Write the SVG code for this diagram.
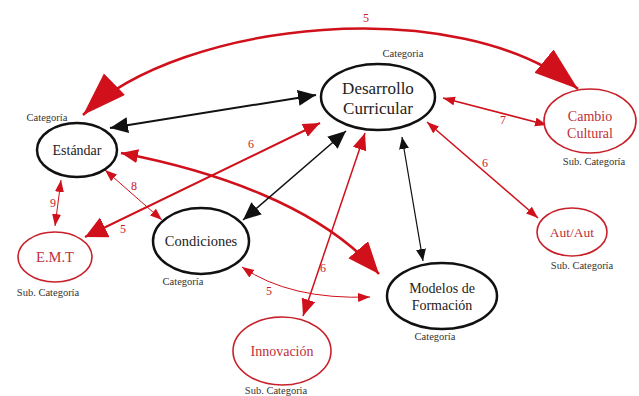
<svg xmlns="http://www.w3.org/2000/svg" width="639" height="396" viewBox="0 0 639 396" font-family="'Liberation Serif','Times New Roman','DejaVu Serif',serif">
<style>
.bg{fill:#fff}
.nb{fill:#fff;stroke:#111;stroke-width:2.5}
.nr{fill:#fff;stroke:#c8202a;stroke-width:1.6}
text{font-family:'Liberation Serif','Times New Roman','DejaVu Serif',serif}
.tb{fill:#222;text-anchor:middle}
.tr{fill:#c0303a;text-anchor:middle}
.cat{fill:#333;font-size:10.5px;text-anchor:middle}
.num{fill:#c8202a;font-size:12px;text-anchor:middle}
.er{fill:none;stroke:#d0101a}
.eb{fill:none;stroke:#111}
</style>
<defs>
<marker id="rBig" markerUnits="userSpaceOnUse" markerWidth="46" markerHeight="32" refX="44" refY="15" orient="auto-start-reverse"><path d="M0,0 L44,15 L0,30 z" fill="#d0101a"/></marker>
<marker id="rFat" markerUnits="userSpaceOnUse" markerWidth="24" markerHeight="24" refX="22" refY="11" orient="auto-start-reverse"><path d="M0,0 L22,11 L0,22 z" fill="#d0101a"/></marker>
<marker id="rLarge" markerUnits="userSpaceOnUse" markerWidth="34" markerHeight="28" refX="32" refY="13" orient="auto-start-reverse"><path d="M0,0 L32,13 L0,26 z" fill="#d0101a"/></marker>
<marker id="rMed" markerUnits="userSpaceOnUse" markerWidth="18" markerHeight="16" refX="17" refY="7" orient="auto-start-reverse"><path d="M0,0 L17,7 L0,14 z" fill="#d0101a"/></marker>
<marker id="rSm" markerUnits="userSpaceOnUse" markerWidth="14" markerHeight="10" refX="12" refY="4.5" orient="auto-start-reverse"><path d="M0,0 L12,4.5 L0,9 z" fill="#d0101a"/></marker>
<marker id="bMed" markerUnits="userSpaceOnUse" markerWidth="20" markerHeight="18" refX="18" refY="8" orient="auto-start-reverse"><path d="M0,0 L18,8 L0,16 z" fill="#111"/></marker>
<marker id="bSm" markerUnits="userSpaceOnUse" markerWidth="14" markerHeight="12" refX="12" refY="5" orient="auto-start-reverse"><path d="M0,0 L12,5 L0,10 z" fill="#111"/></marker>
</defs>
<rect class="bg" x="0" y="0" width="639" height="396"/>
<g id="connectors">
<path class="er" stroke-width="2.5" d="M83 115 C180 20 460 -8 578 89" marker-start="url(#rBig)" marker-end="url(#rBig)"/>
<path class="eb" stroke-width="2" d="M110 128 L316 95" marker-start="url(#bMed)" marker-end="url(#bMed)"/>
<path class="er" stroke-width="2" d="M85 237 L320 123" marker-start="url(#rFat)" marker-end="url(#rMed)"/>
<path class="er" stroke-width="2.5" d="M121 153 C210 170 320 205 379 274" marker-start="url(#rMed)" marker-end="url(#rLarge)"/>
<path class="er" stroke-width="1" d="M105 170 L162 220" marker-start="url(#rSm)" marker-end="url(#rSm)"/>
<path class="er" stroke-width="1" d="M61 180 L55 226" marker-start="url(#rSm)" marker-end="url(#rSm)"/>
<path class="eb" stroke-width="1.5" d="M243 220 L346 131" marker-start="url(#bMed)" marker-end="url(#bMed)"/>
<path class="er" stroke-width="1.5" d="M303 316 L365 133" marker-start="url(#rMed)" marker-end="url(#rMed)"/>
<path class="eb" stroke-width="1.2" d="M402 137 L423 261" marker-start="url(#bSm)" marker-end="url(#bSm)"/>
<path class="er" stroke-width="1.5" d="M443 98 L547 125" marker-start="url(#rSm)" marker-end="url(#rSm)"/>
<path class="er" stroke-width="1.5" d="M427 122 L538 218" marker-start="url(#rSm)" marker-end="url(#rSm)"/>
<path class="er" stroke-width="1" d="M242 267 Q290 300 370 297" marker-start="url(#rSm)" marker-end="url(#rSm)"/>
<text class="num" x="366" y="22">5</text>
<text class="num" x="251" y="148">6</text>
<text class="num" x="123" y="233">5</text>
<text class="num" x="134" y="190">8</text>
<text class="num" x="53" y="207">9</text>
<text class="num" x="323" y="272">6</text>
<text class="num" x="503" y="124">7</text>
<text class="num" x="485" y="167">6</text>
<text class="num" x="269" y="295">5</text>
</g>
<g id="desarrollo">
<ellipse class="nb" cx="378" cy="97" rx="57" ry="33"/>
<text class="tb" x="378" y="94" font-size="17">Desarrollo</text>
<text class="tb" x="378" y="114" font-size="17">Curricular</text>
<text class="cat" x="403" y="57">Categoria</text>
</g>
<g id="estandar">
<ellipse class="nb" cx="77" cy="150" rx="40" ry="27" stroke-width="1.6"/>
<text class="tb" x="77" y="155" font-size="14">Estándar</text>
<text class="cat" x="47" y="121">Categoría</text>
</g>
<g id="emt">
<ellipse class="nr" cx="55" cy="257" rx="37" ry="25"/>
<text class="tr" x="55" y="262" font-size="14.5">E.M.T</text>
<text class="cat" x="48" y="296">Sub. Categoría</text>
</g>
<g id="condiciones">
<ellipse class="nb" cx="201" cy="241" rx="48" ry="33" stroke-width="2"/>
<text class="tb" x="201" y="246" font-size="14.5">Condiciones</text>
<text class="cat" x="183" y="285">Categoría</text>
</g>
<g id="innovacion">
<ellipse class="nr" cx="282" cy="351" rx="49" ry="34"/>
<text class="tr" x="282" y="356" font-size="14">Innovación</text>
<text class="cat" x="276" y="394">Sub. Categoria</text>
</g>
<g id="modelos">
<ellipse class="nb" cx="442" cy="296" rx="55" ry="33"/>
<text class="tb" x="442" y="293" font-size="14">Modelos de</text>
<text class="tb" x="442" y="310" font-size="14">Formación</text>
<text class="cat" x="435" y="340">Categoría</text>
</g>
<g id="autaut">
<ellipse class="nr" cx="572" cy="232" rx="35" ry="24"/>
<text class="tr" x="572" y="237" font-size="13.5">Aut/Aut</text>
<text class="cat" x="582" y="269">Sub. Categoría</text>
</g>
<g id="cambio">
<ellipse class="nr" cx="590" cy="121" rx="46" ry="32"/>
<text class="tr" x="590" y="121" font-size="14">Cambio</text>
<text class="tr" x="590" y="138" font-size="14">Cultural</text>
<text class="cat" x="594" y="165">Sub. Categoría</text>
</g>
</svg>
